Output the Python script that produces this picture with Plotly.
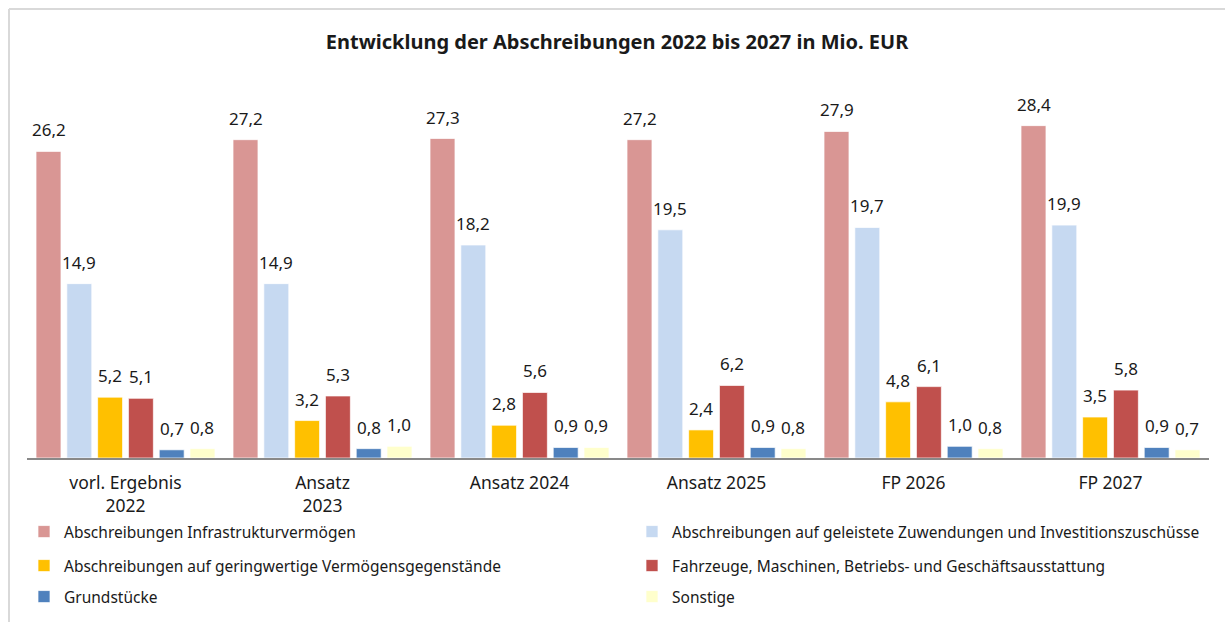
import plotly.graph_objects as go

# Kategorien (Haushaltsjahre) und Werte in Mio. EUR
categories = ["vorl. Ergebnis<br>2022", "Ansatz<br>2023", "Ansatz 2024",
              "Ansatz 2025", "FP 2026", "FP 2027"]

series_names = [
    "Abschreibungen Infrastrukturvermögen",
    "Abschreibungen auf geleistete Zuwendungen und Investitionszuschüsse",
    "Abschreibungen auf geringwertige Vermögensgegenstände",
    "Fahrzeuge, Maschinen, Betriebs- und Geschäftsausstattung",
    "Grundstücke",
    "Sonstige",
]

infrastruktur = [26.2, 27.2, 27.3, 27.2, 27.9, 28.4]
zuwendungen = [14.9, 14.9, 18.2, 19.5, 19.7, 19.9]
geringwertig = [5.2, 3.2, 2.8, 2.4, 4.8, 3.5]
fahrzeuge = [5.1, 5.3, 5.6, 6.2, 6.1, 5.8]
grundstuecke = [0.7, 0.8, 0.9, 0.9, 1.0, 0.9]
sonstige = [0.8, 1.0, 0.9, 0.8, 0.8, 0.7]

series_values = [infrastruktur, zuwendungen, geringwertig, fahrzeuge, grundstuecke, sonstige]
colors = ["#D99694", "#C6D9F1", "#FFC000", "#C0504D", "#4F81BD", "#FFFFCC"]

W, H = 1225, 622
M_L, M_R, M_T, M_B = 27, 16, 80, 164
PW, PH = W - M_L - M_R, H - M_T - M_B
FONT = "Noto Sans"
TEXT = "#1a1a1a"
BARGAP = 0.062
GROUPGAP = 0.19
n_series = len(series_values)
xs = list(range(len(categories)))


def de(v):
    return f"{v:.1f}".replace(".", ",")


def px_x(px):
    """Pixel column -> paper x."""
    return (px - M_L) / PW


def px_y(py):
    """Pixel row (from top) -> paper y."""
    return (H - M_B - py) / PH


fig = go.Figure()
legend_ids = ["legend"] + [f"legend{k}" for k in range(2, n_series + 1)]
for name, vals, col, lid in zip(series_names, series_values, colors, legend_ids):
    fig.add_trace(go.Bar(
        x=xs, y=vals, name=name, legend=lid, showlegend=True,
        marker=dict(color=col, line=dict(color="rgba(255,255,255,0.7)", width=1)),
        hoverinfo="skip",
    ))

# Wertbeschriftungen über den Säulen
slot = (1 - BARGAP) / n_series
annotations = []
for j, vals in enumerate(series_values):
    for i, v in enumerate(vals):
        annotations.append(dict(
            x=i + (j - (n_series - 1) / 2) * slot, y=v, xref="x", yref="y",
            text=de(v), showarrow=False, yanchor="bottom", yshift=8,
            font=dict(family=FONT, size=17, color=TEXT),
        ))

# Legende: zwei Spalten, drei Zeilen
col_x = [24, 632]
row_y = [532, 566, 597]
legend_layouts = {}
for k, lid in enumerate(legend_ids):
    legend_layouts[lid] = dict(
        x=col_x[k % 2] / W, xref="container", xanchor="left",
        y=1 - row_y[k // 2] / H, yref="container", yanchor="middle",
        orientation="h", bgcolor="rgba(0,0,0,0)", borderwidth=0,
        font=dict(family=FONT, size=15.5, color=TEXT),
        itemclick=False, itemdoubleclick=False, visible=True,
    )

fig.update_layout(
    width=W, height=H,
    margin=dict(l=M_L, r=M_R, t=M_T, b=M_B, autoexpand=False),
    paper_bgcolor="white", plot_bgcolor="white",
    showlegend=True,
    barmode="group", bargap=BARGAP, bargroupgap=GROUPGAP,
    title=dict(
        text="<b>Entwicklung der Abschreibungen 2022 bis 2027 in Mio. EUR</b>",
        x=617 / W, xanchor="center", xref="container",
        y=1 - 42 / H, yanchor="middle", yref="container",
        font=dict(family=FONT, size=20, color=TEXT),
    ),
    xaxis=dict(
        range=[-0.5, len(categories) - 0.5], tickvals=xs, ticktext=categories,
        showline=True, linecolor="#898989", linewidth=2,
        showgrid=False, zeroline=False, ticks="", ticklabelstandoff=8,
        tickfont=dict(family=FONT, size=17.5, color=TEXT),
        automargin=False,
    ),
    yaxis=dict(range=[0, 32.3], visible=False, automargin=False),
    annotations=annotations,
    shapes=[
        dict(type="line", xref="paper", yref="paper",
             x0=px_x(9), x1=px_x(W), y0=px_y(9), y1=px_y(9),
             line=dict(color="#d9d9d9", width=2)),
        dict(type="line", xref="paper", yref="paper",
             x0=px_x(9), x1=px_x(9), y0=px_y(H), y1=px_y(9),
             line=dict(color="#d9d9d9", width=2)),
    ],
    **legend_layouts,
)

fig.write_html("out.html")
